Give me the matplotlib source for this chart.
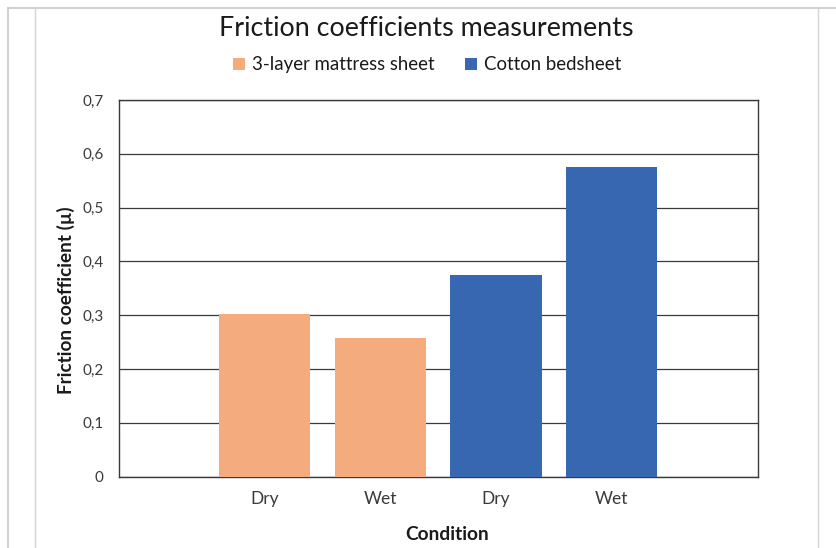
import matplotlib
matplotlib.use("Agg")
import matplotlib.pyplot as plt
from matplotlib.lines import Line2D
from matplotlib.ticker import FuncFormatter

plt.rcParams['font.family'] = ['Lato', 'DejaVu Sans']

categories = ["Dry", "Wet", "Dry", "Wet"]
series_names = ["3-layer mattress sheet", "Cotton bedsheet"]
mattress = [0.303, 0.258]
cotton = [0.375, 0.575]
yticks = [0, 0.1, 0.2, 0.3, 0.4, 0.5, 0.6, 0.7]

c_orange = "#F4AC7E"
c_blue = "#3867B2"

fig = plt.figure(figsize=(8.37, 5.48), dpi=100)
fig.patch.set_facecolor("white")

# page frame lines (document border artifacts)
W, H = 837, 548
def fx(x): return x / W
def fy(y): return 1 - y / H
fig.add_artist(Line2D([fx(8), 1], [fy(7.5), fy(7.5)], color="#c8c8c8", lw=1.2, transform=fig.transFigure))
fig.add_artist(Line2D([fx(8), fx(8)], [fy(7.5), 0], color="#c8c8c8", lw=1.2, transform=fig.transFigure))
fig.add_artist(Line2D([fx(35.5), fx(35.5)], [fy(7.5), 0], color="#d4d4d4", lw=1.0, transform=fig.transFigure))
fig.add_artist(Line2D([fx(818.5), fx(818.5)], [fy(7.5), 0], color="#d4d4d4", lw=1.0, transform=fig.transFigure))

ax = fig.add_axes([118.7 / W, 1 - 476.7 / H, 639 / W, 376.7 / H])

pos_m = [0, 1]
pos_c = [2, 3]
ax.bar(pos_m, mattress, width=0.79, color=c_orange, label=series_names[0], zorder=3)
ax.bar(pos_c, cotton, width=0.79, color=c_blue, label=series_names[1], zorder=3)

ax.set_xlim(-1.264, 4.264)
ax.set_ylim(0, 0.7)
ax.set_yticks(yticks)
ax.yaxis.set_major_formatter(FuncFormatter(lambda v, p: "0" if abs(v) < 1e-9 else f"{v:.1f}".replace(".", ",")))
ax.set_xticks(pos_m + pos_c)
ax.set_xticklabels(categories)
ax.tick_params(axis="both", length=0, labelsize=11, colors="#3a3a3a")
ax.tick_params(axis="x", pad=10, labelsize=12.5)
ax.tick_params(axis="y", pad=11)
ax.grid(axis="y", color="#3a3a3a", lw=0.9, zorder=0)
for s in ax.spines.values():
    s.set_color("#3a3a3a")
    s.set_linewidth(1.0)

ax.set_xlabel("Condition", fontsize=13.8, fontweight="bold", color="#1a1a1a")
ax.xaxis.set_label_coords((447.5 - 118.7) / 639, (476.7 - 526) / 376.7)
ax.set_ylabel("Friction coefficient (µ)", fontsize=13.6, fontweight="bold", color="#1a1a1a")
ax.yaxis.set_label_coords((75 - 118.7) / 639, (476.7 - 300) / 376.7)

fig.text(426 / W, fy(29), "Friction coefficients measurements", ha="center", va="center",
         fontsize=19.4, color="#1a1a1a")

leg = fig.legend(loc="center", bbox_to_anchor=(427 / W, fy(65)), ncol=2, frameon=False,
                 fontsize=13.4, handlelength=0.65, handleheight=0.65, handletextpad=0.4,
                 columnspacing=1.6, labelcolor="#1a1a1a")

fig.savefig("out.png", dpi=100, facecolor="white")
